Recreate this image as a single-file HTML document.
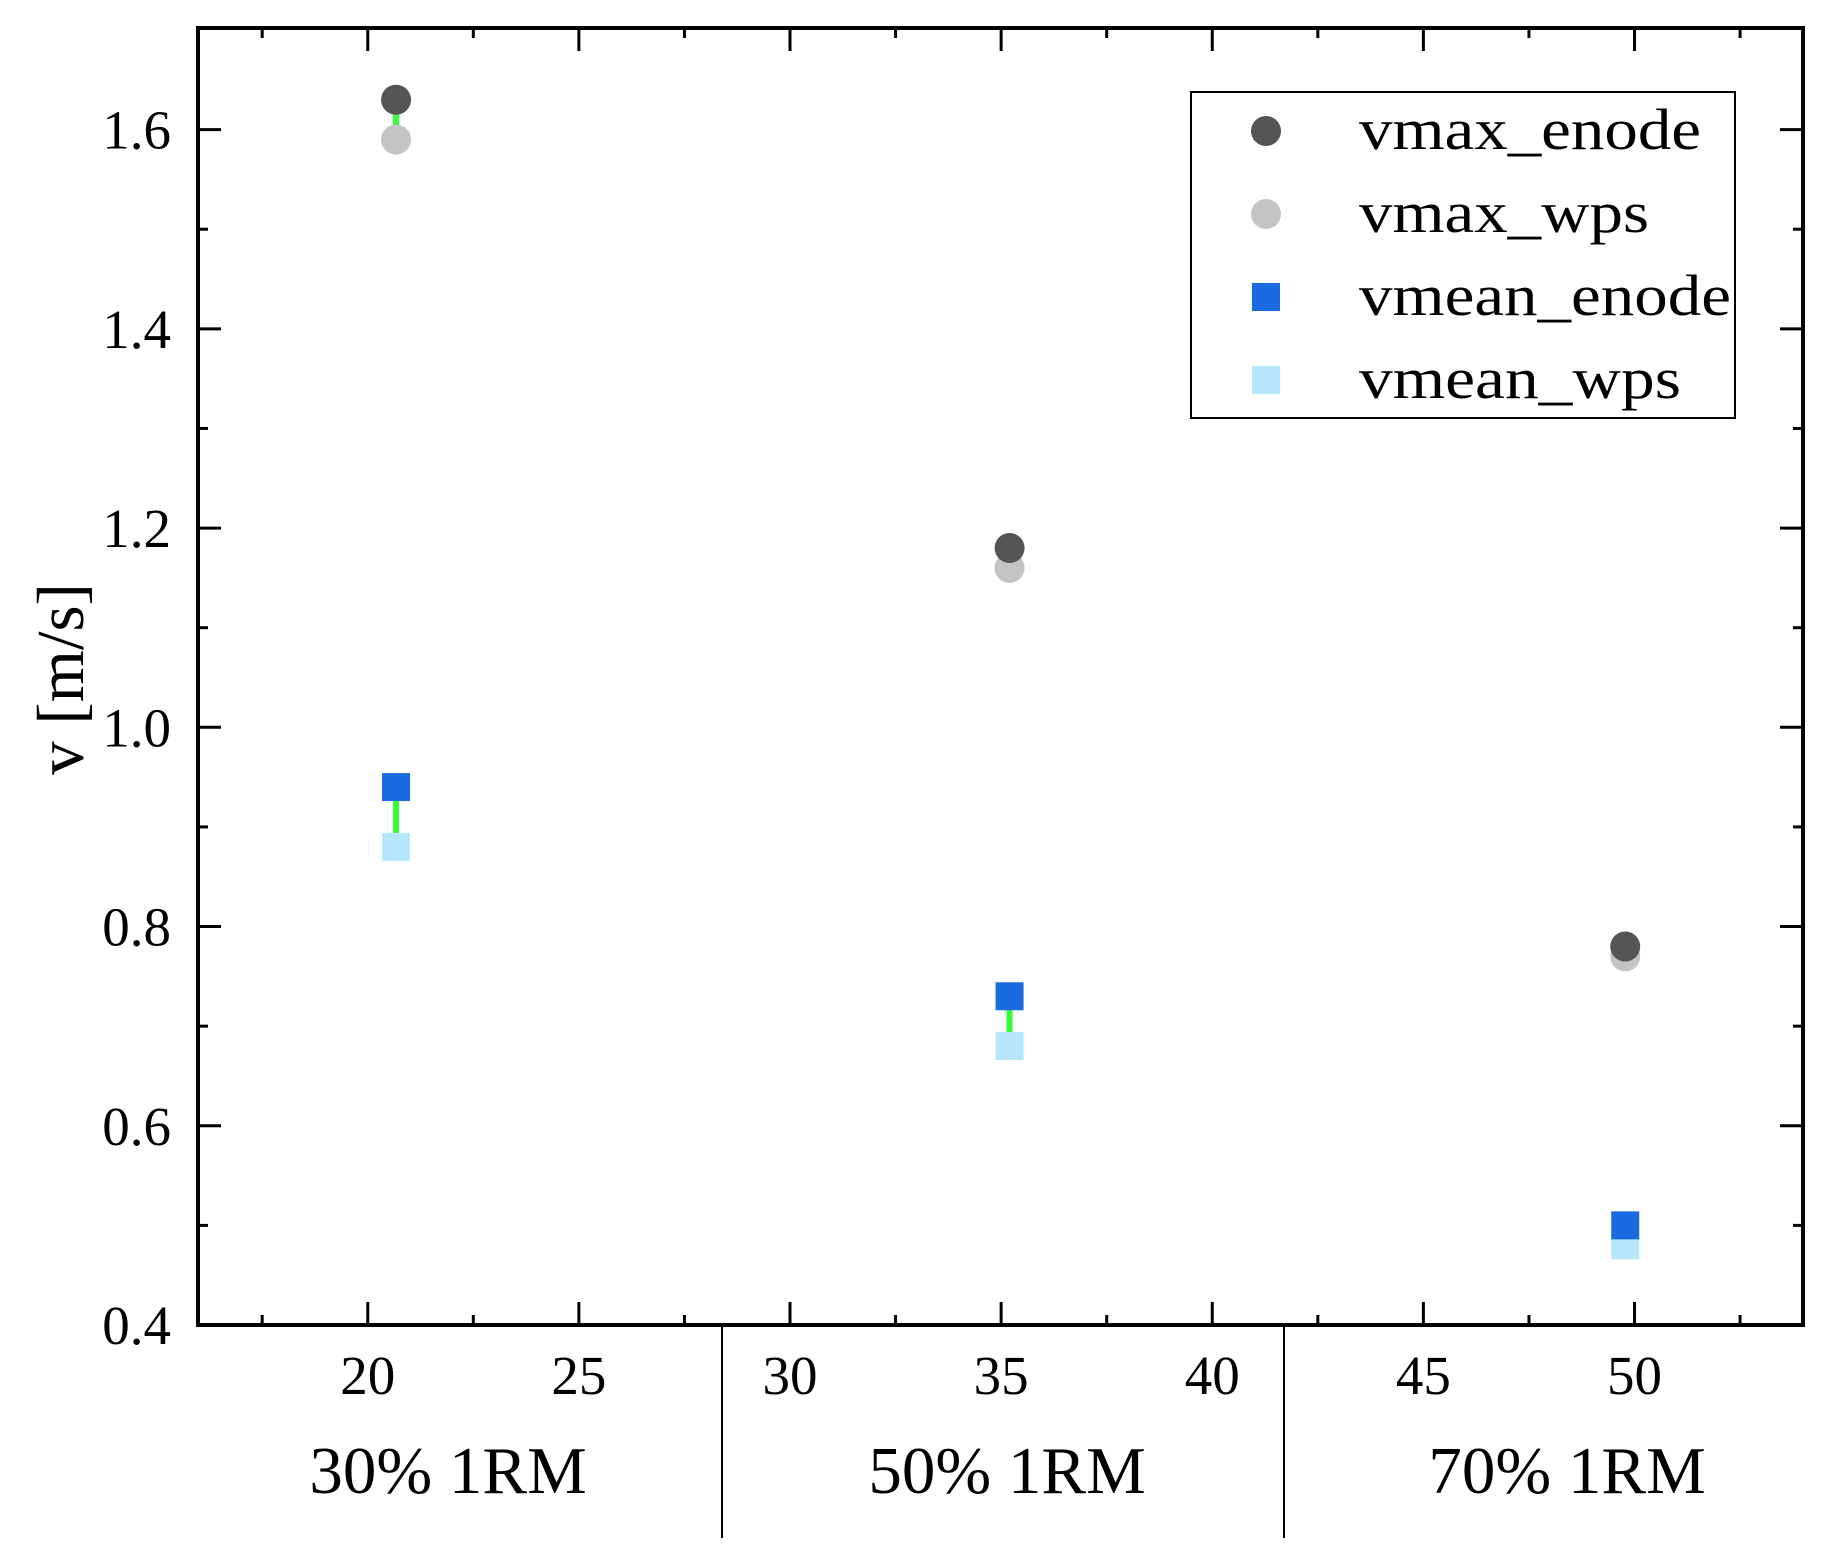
<!DOCTYPE html>
<html><head><meta charset="utf-8"><style>
html,body{margin:0;padding:0;background:#fff;}
svg{display:block;font-family:"Liberation Serif",serif;}
</style></head><body>
<svg id="chart" width="1841" height="1563" viewBox="0 0 1841 1563">
<g id="marks"></g>
<g id="axes"></g>
</svg>
<script>
const xPos=[20.67,35.2,49.78];
const vmaxEnode=[1.63,1.18,0.78];
const vmaxWps=[1.59,1.16,0.77];
const vmeanEnode=[0.94,0.73,0.50];
const vmeanWps=[0.88,0.68,0.48];
const xTicks=[20,25,30,35,40,45,50];
const yTicks=[0.4,0.6,0.8,1.0,1.2,1.4,1.6];
const yTickLabels=["0.4","0.6","0.8","1.0","1.2","1.4","1.6"];
const groups=["30% 1RM","50% 1RM","70% 1RM"];
const groupCenters=[448,1007,1567];
const groupSeps=[722,1284];

const L=198,R=1803,T=28,B=1325;
const X0=15.98,X1=53.99,Y0=0.4,Y1=1.702;
function sx(v){return L+(v-X0)/(X1-X0)*(R-L);}
function sy(v){return B-(v-Y0)/(Y1-Y0)*(B-T);}
const NS="http://www.w3.org/2000/svg";
const marks=document.getElementById('marks'),axes=document.getElementById('axes');
function mk(tag,attrs,parent){const e=document.createElementNS(NS,tag);for(const k in attrs)e.setAttribute(k,attrs[k]);parent.appendChild(e);return e;}

for(let i=0;i<xPos.length;i++){
  const x=sx(xPos[i]);
  let g=mk('line',{x1:x,x2:x,y1:sy(vmaxEnode[i]),y2:sy(vmaxWps[i]),stroke:'#33ff33','stroke-width':6},marks);
  
  
  g=mk('line',{x1:x,x2:x,y1:sy(vmeanEnode[i]),y2:sy(vmeanWps[i]),stroke:'#33ff33','stroke-width':6},marks);
  
  
  let c=mk('circle',{cx:x,cy:sy(vmaxWps[i]),r:15,fill:'#c4c4c4'},marks);
  
  
  c=mk('circle',{cx:x,cy:sy(vmaxEnode[i]),r:15,fill:'#555555'},marks);
  
  
  let s=mk('rect',{x:x-14,y:sy(vmeanWps[i])-14,width:28,height:28,fill:'#b6e6fb'},marks);
  
  
  s=mk('rect',{x:x-14,y:sy(vmeanEnode[i])-14,width:28,height:28,fill:'#1a6ae0'},marks);
  
  
}

for(let v=17.5;v<=52.5;v+=2.5){
  const major=Math.abs(v%5)<1e-6, len=major?23:10, x=sx(v);
  let t=mk('line',{x1:x,x2:x,y1:B,y2:B-len,stroke:'#000','stroke-width':3},axes);
  
  
  t=mk('line',{x1:x,x2:x,y1:T,y2:T+len,stroke:'#000','stroke-width':3},axes);
  
  
}
for(let k=4;k<=16;k++){
  const v=k/10, major=k%2===0, len=major?23:10, y=sy(v);
  let t=mk('line',{x1:L,x2:L+len,y1:y,y2:y,stroke:'#000','stroke-width':3},axes);
  
  
  t=mk('line',{x1:R,x2:R-len,y1:y,y2:y,stroke:'#000','stroke-width':3},axes);
  
  
}
let fr=mk('rect',{x:L,y:T,width:R-L,height:B-T,fill:'none',stroke:'#000','stroke-width':4},axes);



xTicks.forEach(v=>{
  const t=mk('text',{x:sx(v),y:1394,'font-size':55,'text-anchor':'middle'},axes);
  t.textContent=v;
  
  
});
yTicks.forEach((v,i)=>{
  const t=mk('text',{x:171,y:sy(v)+19,'font-size':55,'text-anchor':'end'},axes);
  t.textContent=yTickLabels[i];
  
  
});
groups.forEach((g,i)=>{
  const t=mk('text',{x:groupCenters[i],y:1493,'font-size':67,'text-anchor':'middle'},axes);
  t.textContent=g;
  
  
});
groupSeps.forEach(x=>{
  const l=mk('line',{x1:x,x2:x,y1:B,y2:1538,stroke:'#000','stroke-width':2},axes);
  
  
});
const yt=mk('text',{x:0,y:0,'font-size':67,'text-anchor':'middle',transform:'translate(83,679) rotate(-90)'},axes);
yt.textContent='v [m/s]';



const lg=mk('g',{},axes);


mk('rect',{x:1191,y:92,width:544,height:326,fill:'#fff',stroke:'#000','stroke-width':2},lg);
const legNames=['vmax_enode','vmax_wps','vmean_enode','vmean_wps'];
const legColors=['#555555','#c4c4c4','#1a6ae0','#b6e6fb'];
const legW=[342,290,372,322];
legNames.forEach((n,i)=>{
  const y=131+i*83;
  let m;
  if(i<2)m=mk('circle',{cx:1266,cy:y,r:15,fill:legColors[i]},lg);
  else m=mk('rect',{x:1252,y:y-14,width:28,height:28,fill:legColors[i]},lg);
  
  
  const t=mk('text',{x:1359,y:y+18,'font-size':58,textLength:legW[i],lengthAdjust:'spacingAndGlyphs'},lg);
  t.textContent=n;
  
  
});
</script>
</body></html>
